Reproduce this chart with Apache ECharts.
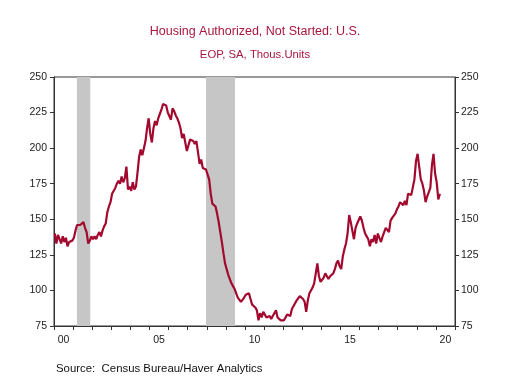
<!DOCTYPE html>
<html>
<head>
<meta charset="utf-8">
<script src="https://cdn.jsdelivr.net/npm/echarts@6/dist/echarts.min.js"></script>
<style>
  html, body { margin: 0; padding: 0; background: #fff; }
  #chart { width: 510px; height: 377px; }
</style>
</head>
<body>
<div id="chart"></div>
<script>
// monthly, thousands of units, Jan 2000 .. Mar 2020
const startYear = 2000
const authNotStarted = [
  140, 133, 139, 136, 133, 138, 134, 137, 131, 134, 134, 135, // 2000
  137, 142, 146, 147, 146, 147, 148, 144, 141, 133, 135, 138, // 2001
  136, 138, 136, 139, 141, 138, 142, 145, 147, 155, 159, 162, // 2002
  168, 167, 172, 175, 177, 175, 180, 176, 179, 187, 171, 173, // 2003
  170, 176, 171, 173, 183, 194, 199, 195, 200, 205, 214, 221, // 2004
  210, 204, 214, 219, 216, 221, 224, 227, 231, 231, 230, 225, // 2005
  224, 220, 228, 226, 223, 221, 218, 214, 207, 210, 204, 198, // 2006
  202, 206, 207, 205, 203, 205, 197, 189, 192, 186, 185, 185, // 2007
  184, 178, 168, 161, 160, 159, 154, 148, 141, 134, 126, 119, // 2008
  118, 111, 108, 105, 103, 101, 98, 95, 94, 92, 93, 95,       // 2009
  97, 98, 98, 94, 90, 89, 88, 86, 79, 84, 81, 85,             // 2010
  83, 81, 80, 82, 80, 82, 81, 86, 81, 80, 79, 78,             // 2011
  79, 81, 83, 82, 82, 87, 88, 91, 93, 94, 96, 95,             // 2012
  94, 92, 85, 93, 98, 100, 102, 105, 112, 119, 110, 106,      // 2013
  106, 109, 112, 110, 108, 110, 111, 112, 115, 119, 121, 117, // 2014
  115, 124, 129, 133, 140, 153, 148, 148, 136, 144, 147, 148, // 2015
  152, 149, 144, 140, 138, 136, 131, 136, 134, 139, 133, 140, // 2016
  140, 134, 138, 141, 144, 145, 141, 149, 151, 150, 154, 157, // 2017
  159, 162, 161, 160, 163, 160, 168, 167, 167, 168, 178, 191, // 2018
  196, 187, 178, 175, 170, 162, 166, 166, 172, 188, 196, 182, // 2019
  176, 164, 168                                               // 2020
]
const yearLabels = ['00', '01', '02', '03', '04', '05', '06', '07', '08', '09', '10',
  '11', '12', '13', '14', '15', '16', '17', '18', '19', '20']
// NBER recessions (fractional years)
const recessions = [[2001.2, 2001.9], [2007.96, 2009.48]]

const red = '#a3092e'
const font = 'Liberation Sans, Arial, sans-serif'

const chart = echarts.init(document.getElementById('chart'), null, { renderer: 'canvas' })

const yAxisBase = {
  type: 'value',
  min: 75,
  max: 250,
  interval: 25,
  axisLine: { show: true, onZero: false, lineStyle: { color: '#333', width: 1 } },
  axisTick: { show: true, length: 4, lineStyle: { color: '#333' } },
  axisLabel: { fontSize: 10.5, color: '#222', margin: 7, fontFamily: font },
  splitLine: { show: false }
}

chart.setOption({
  animation: false,
  title: [
    {
      text: 'Housing Authorized, Not Started: U.S.',
      left: 'center',
      top: 25,
      padding: 0,
      textStyle: { fontSize: 12.5, fontWeight: 'normal', color: '#a8173f', fontFamily: font, lineHeight: 14 }
    },
    {
      text: 'EOP, SA, Thous.Units',
      left: 'center',
      top: 48,
      padding: 0,
      textStyle: { fontSize: 11.3, fontWeight: 'normal', color: '#a8173f', fontFamily: font, lineHeight: 13 }
    },
    {
      text: 'Source:  Census Bureau/Haver Analytics',
      left: 56,
      top: 362,
      padding: 0,
      textStyle: { fontSize: 11.4, fontWeight: 'normal', color: '#111', fontFamily: font, lineHeight: 13 }
    }
  ],
  grid: {
    left: 54,
    right: 55,
    top: 77,
    bottom: 51,
    show: true,
    borderColor: '#333',
    borderWidth: 1,
    backgroundColor: 'transparent'
  },
  xAxis: [
    {
      type: 'value',
      position: 'bottom',
      min: 2000,
      max: 2021,
      interval: 1,
      axisLine: { show: true, onZero: false, lineStyle: { color: '#333' } },
      axisTick: { show: true, length: 4, lineStyle: { color: '#333' } },
      axisLabel: { show: false },
      splitLine: { show: false }
    },
    {
      type: 'category',
      position: 'bottom',
      data: yearLabels,
      boundaryGap: true,
      axisLine: { show: false },
      axisTick: { show: false },
      axisLabel: {
        interval: (i) => i % 5 === 0,
        fontSize: 10.5,
        color: '#222',
        margin: 9,
        fontFamily: font
      },
      splitLine: { show: false }
    }
  ],
  yAxis: [
    Object.assign({}, yAxisBase, { position: 'left' }),
    Object.assign({}, yAxisBase, { position: 'right', axisLabel: Object.assign({}, yAxisBase.axisLabel, { margin: 6 }) })
  ],
  series: [
    {
      type: 'line',
      xAxisIndex: 0,
      yAxisIndex: 0,
      showSymbol: false,
      data: authNotStarted.map((v, i) => [startYear + (i + 0.5) / 12, v]),
      lineStyle: { color: red, width: 2.2 },
      itemStyle: { color: red },
      markArea: {
        silent: true,
        itemStyle: { color: '#c6c6c6' },
        data: recessions.map((r) => [{ xAxis: r[0] }, { xAxis: r[1] }])
      }
    }
  ]
})
</script>
</body>
</html>
